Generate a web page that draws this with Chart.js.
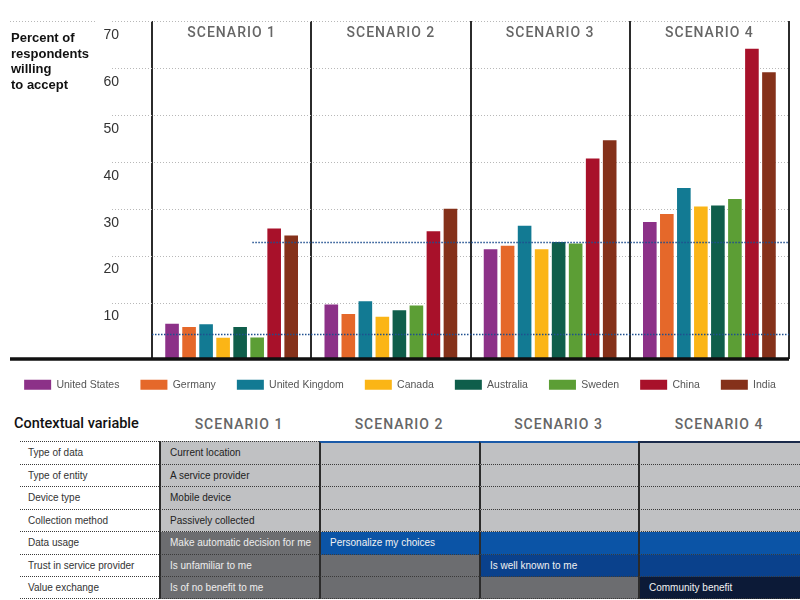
<!DOCTYPE html>
<html>
<head>
<meta charset="utf-8">
<script src="https://cdn.jsdelivr.net/npm/chart.js@4.4.0/dist/chart.umd.min.js"></script>
<style>
  html, body { margin: 0; padding: 0; background: #fff; }
  body { width: 800px; height: 600px; position: relative; overflow: hidden; font-family: "Liberation Sans", Arial, sans-serif; }
  #wrap { position: absolute; left: 0; top: 0; width: 800px; height: 400px; }
  #context { position: absolute; left: 0; top: 400px; width: 800px; height: 200px; }
  .head { position: absolute; top: 14px; height: 20px; line-height: 20px; white-space: nowrap; }
  .head.first { left: 14px; font-family: Roboto, sans-serif; font-weight: 500; font-size: 14.5px; color: #111; }
  .head.scen { text-align: center; font-family: Roboto, sans-serif; font-weight: 500; font-size: 14px; letter-spacing: 1px; color: #666; }
  #grid { position: absolute; left: 0; top: 41px; display: grid;
    grid-template-columns: 159px 160px 160px 159px 162px;
    grid-template-rows: 24px 22px 23px 22px 23px 22px 22px; }
  .cell { font-size: 10px; line-height: 1; display: flex; align-items: center; white-space: nowrap;
    border-bottom: 1px dotted #3a3a3a; box-sizing: border-box; }
  .lab { margin-left: 20px; padding-left: 8px; color: #333; }
  .val { padding-left: 9px; border-left: 2px solid #2b2b2b; }
  .top { border-top: 1px dotted #3a3a3a; }
  .light { background: #c0c1c3; color: #222; }
  .dark { background: #6c6d70; color: #eee; }
  .blue { background: #0b54a6; color: #f2f2f2; }
  .deep { background: #0a418c; color: #f2f2f2; }
  .navy { background: #0c1a37; color: #f2f2f2; }
</style>
</head>
<body>
<div id="wrap"><canvas id="chart"></canvas></div>
<div id="context"></div>
<script>
// chart data
const scenarios = ['SCENARIO 1', 'SCENARIO 2', 'SCENARIO 3', 'SCENARIO 4'];
const countries = ['United States', 'Germany', 'United Kingdom', 'Canada', 'Australia', 'Sweden', 'China', 'India'];
const countryColors = ['#8c3188', '#e5682a', '#127a93', '#fbb516', '#0f5e4b', '#5c9e35', '#a8112a', '#85311a'];

const unitedStates = [7.4, 11.5, 23.3, 29.1];
const germany = [6.7, 9.5, 24.0, 30.8];
const unitedKingdom = [7.3, 12.2, 28.3, 36.3];
const canada = [4.4, 8.9, 23.3, 32.4];
const australia = [6.7, 10.3, 24.8, 32.6];
const sweden = [4.5, 11.3, 24.5, 34.0];
const china = [27.7, 27.1, 42.6, 66.0];
const india = [26.2, 31.9, 46.5, 61.0];
const countrySeries = [unitedStates, germany, unitedKingdom, canada, australia, sweden, china, india];

const yTicks = [10, 20, 30, 40, 50, 60, 70];
const yTitleLines = ['Percent of', 'respondents', 'willing', 'to accept'];

// dotted reference levels and where they start (category units)
const referenceLevels = [5.1, 24.7];
const referenceStarts = [-0.5, 0.13];

// table below the chart
const contextVariables = ['Type of data', 'Type of entity', 'Device type', 'Collection method',
  'Data usage', 'Trust in service provider', 'Value exchange'];
const scenarioSettings = [
  ['Current location', 'A service provider', 'Mobile device', 'Passively collected',
    'Make automatic decision for me', 'Is unfamiliar to me', 'Is of no benefit to me'],
  ['', '', '', '', 'Personalize my choices', '', ''],
  ['', '', '', '', '', 'Is well known to me', ''],
  ['', '', '', '', '', '', 'Community benefit']
];
const cellShades = [
  ['light', 'light', 'light', 'light'],
  ['light', 'light', 'light', 'light'],
  ['light', 'light', 'light', 'light'],
  ['light', 'light', 'light', 'light'],
  ['dark', 'blue', 'blue', 'blue'],
  ['dark', 'dark', 'deep', 'deep'],
  ['dark', 'dark', 'dark', 'navy']
];

const decor = {
  id: 'decor',
  beforeDatasetsDraw(chart) {
    const { ctx, chartArea, scales: { x, y } } = chart;
    ctx.save();
    // dotted grid, sits a bit above each tick label
    ctx.strokeStyle = '#b8b8b8';
    ctx.lineWidth = 1;
    ctx.setLineDash([1, 2]);
    yTicks.forEach((v) => {
      const py = Math.round(y.getPixelForValue(v) - 9) + 0.5;
      ctx.beginPath();
      ctx.moveTo(112, py);
      ctx.lineTo(chartArea.right, py);
      ctx.stroke();
    });
    const topY = Math.round(y.getPixelForValue(70) - 9) + 0.5;
    ctx.beginPath();
    ctx.moveTo(10, topY);
    ctx.lineTo(97, topY);
    ctx.stroke();
    ctx.setLineDash([]);

    // y title
    ctx.fillStyle = '#111';
    ctx.font = 'bold 13px "Liberation Sans", Arial, sans-serif';
    ctx.textAlign = 'left';
    ctx.textBaseline = 'alphabetic';
    yTitleLines.forEach((t, i) => ctx.fillText(t, 11, 42 + i * 15.5));

    // scenario titles
    ctx.fillStyle = '#666';
    ctx.font = '500 14px Roboto, sans-serif';
    ctx.letterSpacing = '1px';
    ctx.textAlign = 'center';
    ctx.textBaseline = 'middle';
    scenarios.forEach((s, i) => ctx.fillText(s, x.getPixelForValue(i), chartArea.top + 12));
    ctx.restore();
  },
  afterDatasetsDraw(chart) {
    const { ctx, chartArea, scales: { x, y } } = chart;
    ctx.save();
    ctx.strokeStyle = '#1f4f8f';
    ctx.lineWidth = 1.5;
    ctx.setLineDash([1.5, 1.5]);
    referenceLevels.forEach((v, i) => {
      const py = y.getPixelForValue(v);
      ctx.beginPath();
      ctx.moveTo(x.getPixelForValue(referenceStarts[i]), py);
      ctx.lineTo(chartArea.right, py);
      ctx.stroke();
    });
    ctx.setLineDash([]);
    // heavy baseline
    ctx.strokeStyle = '#111';
    ctx.lineWidth = 3.5;
    ctx.beginPath();
    ctx.moveTo(10, chartArea.bottom + 0.5);
    ctx.lineTo(chartArea.right, chartArea.bottom + 0.5);
    ctx.stroke();
    ctx.restore();
  }
};

new Chart(document.getElementById('chart'), {
  type: 'bar',
  data: {
    labels: scenarios,
    datasets: countries.map((c, i) => ({
      label: c,
      data: countrySeries[i],
      backgroundColor: countryColors[i],
      borderWidth: 0
    }))
  },
  options: {
    responsive: true,
    maintainAspectRatio: false,
    animation: false,
    events: [],
    datasets: { bar: { barPercentage: 0.8, categoryPercentage: 0.855 } },
    layout: { padding: { top: 21, right: 0, bottom: 0, left: 0 } },
    scales: {
      x: {
        ticks: { display: false },
        grid: { color: '#2b2b2b', lineWidth: 2, drawTicks: false, offset: true },
        border: { display: false }
      },
      y: {
        min: 0,
        max: 71.9,
        afterBuildTicks: (scale) => { scale.ticks = yTicks.map((v) => ({ value: v })); },
        afterFit: (scale) => {
          scale.width = 152;
          scale.paddingTop = 0;
          scale.paddingBottom = 0;
        },
        ticks: {
          padding: 25,
          labelOffset: 5,
          color: '#333',
          font: { family: '"Liberation Sans", Arial, sans-serif', size: 14 }
        },
        grid: { display: false },
        border: { display: false }
      },
      // empty strip on the right so the legend keeps the full width
      gutter: {
        type: 'linear',
        position: 'right',
        ticks: { display: false },
        grid: { display: false },
        border: { display: false },
        afterFit: (scale) => {
          scale.width = 11;
          scale.paddingTop = 0;
          scale.paddingBottom = 0;
        }
      }
    },
    plugins: {
      tooltip: { enabled: false },
      legend: {
        position: 'bottom',
        labels: {
          boxWidth: 27,
          boxHeight: 10,
          padding: 21,
          color: '#555',
          font: { family: '"Liberation Sans", Arial, sans-serif', size: 10.5 }
        }
      }
    }
  },
  plugins: [decor]
});

// contextual variable table
const context = document.getElementById('context');
const colLeft = [159, 319, 479, 638];
const colWidth = [160, 160, 159, 162];
let html = '<div class="head first">Contextual variable</div>';
scenarios.forEach((s, i) => {
  html += `<div class="head scen" style="left:${colLeft[i]}px;width:${colWidth[i]}px">${s}</div>`;
});
html += '<div id="grid">';
contextVariables.forEach((v, r) => {
  const top = r === 0 ? ' top' : '';
  html += `<div class="cell lab${top}">${v}</div>`;
  scenarioSettings.forEach((col, c) => {
    let extra = '';
    if (r === 0 && (c === 1 || c === 2)) extra = ' style="border-top:2px solid #1a5aa8"';
    if (r === 0 && c === 3) extra = ' style="border-top:2px solid #1a2a4a"';
    html += `<div class="cell val ${cellShades[r][c]}${top}"${extra}>${col[r]}</div>`;
  });
});
html += '</div>';
context.innerHTML = html;
</script>
</body>
</html>
